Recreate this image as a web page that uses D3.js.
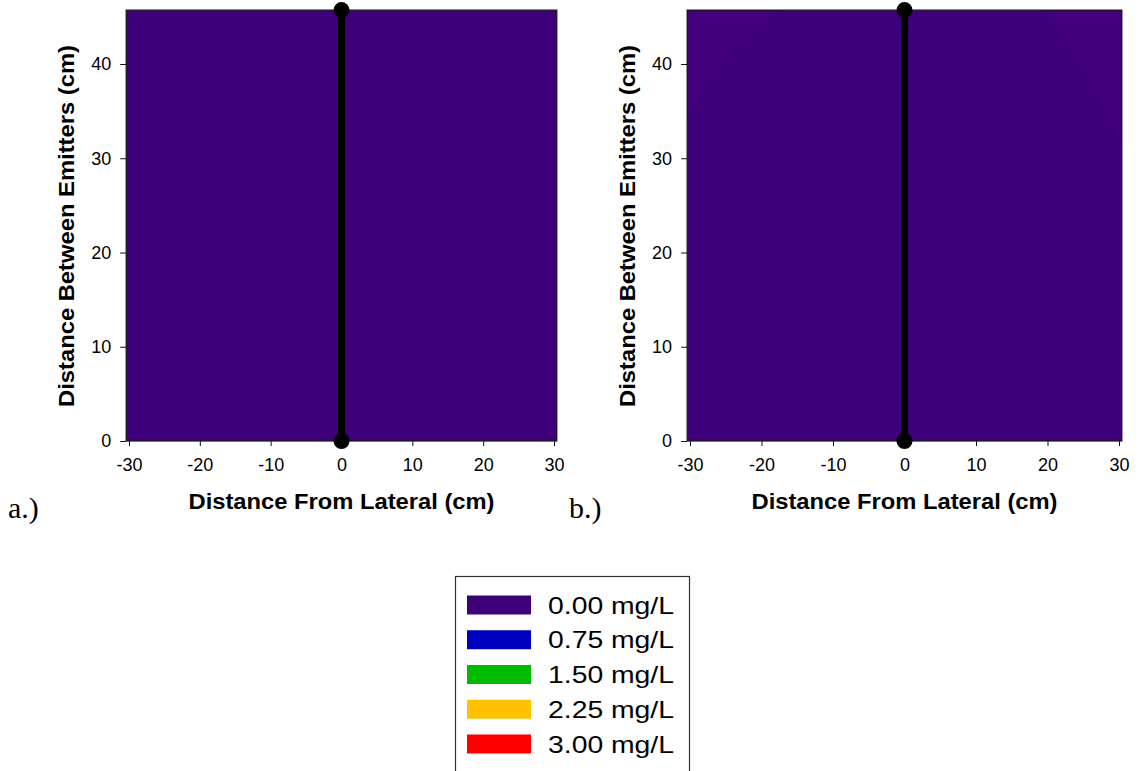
<!DOCTYPE html>
<html><head><meta charset="utf-8">
<script src="https://cdn.jsdelivr.net/npm/d3@7"></script>
<style>body{margin:0;background:#fff;} svg{display:block;}</style>
</head><body>
<svg id="c" width="1139" height="771"></svg>
<script>
// ---- data ----
const xTicks = [-30, -20, -10, 0, 10, 20, 30];
const yTicks = [0, 10, 20, 30, 40];
const xExtent = [-30.4, 30.4];
const yExtent = [0, 45.72];
const lateralX = 0;
const emitterYs = [0, 45.72];
const legendLabels = ["0.00 mg/L", "0.75 mg/L", "1.50 mg/L", "2.25 mg/L", "3.00 mg/L"];
const legendColors = ["#3d0079", "#0000c0", "#00bb00", "#ffc200", "#ff0000"];
const baseColor = "#3d0079";
const faintColor = "#42007b";
// panel b faint contour regions (data coords)
const faintTopLeft = [[-30.4,45.72],[-17,45.72],[-20,44],[-24,41.5],[-27.5,38],[-30.4,34]];
const faintTopRight = [[19,45.72],[30.4,45.72],[30.4,31.6],[27.5,36],[24,40.5],[21,44]];
const panels = [
  {label: "a.)", labelX: 8, xr: [129, 554], faint: []},
  {label: "b.)", labelX: 569, xr: [690, 1119], faint: [faintTopLeft, faintTopRight]}
];

const svg = d3.select("#c");
const y = d3.scaleLinear().domain([0, 40]).range([441, 64]);
const sans = "Liberation Sans, Arial, sans-serif";

panels.forEach((p, i) => {
  const x = d3.scaleLinear().domain([-30, 30]).range(p.xr);
  const g = svg.append("g");
  g.append("rect")
    .attr("x", x(xExtent[0])).attr("y", y(yExtent[1]))
    .attr("width", x(xExtent[1]) - x(xExtent[0]))
    .attr("height", y(yExtent[0]) - y(yExtent[1]))
    .attr("fill", baseColor);
  const line = d3.line().x(d => x(d[0])).y(d => y(d[1]));
  p.faint.forEach(poly => {
    g.append("path").attr("d", line(poly) + "Z").attr("fill", faintColor);
  });
  g.append("rect")
    .attr("x", x(xExtent[0])).attr("y", y(yExtent[1]))
    .attr("width", x(xExtent[1]) - x(xExtent[0]))
    .attr("height", y(yExtent[0]) - y(yExtent[1]))
    .attr("fill", "none").attr("stroke", "#1a1a1a").attr("stroke-width", 1.2);

  // axes
  const xa = g.append("g").attr("transform", `translate(0,${y(0)})`)
    .call(d3.axisBottom(x).tickValues(xTicks).tickSize(5).tickSizeOuter(0).tickFormat(d => String(d)));
  xa.select(".domain").remove();
  xa.selectAll("line").attr("stroke", "#111");
  xa.selectAll("text").attr("font-family", sans).attr("font-size", 18).attr("fill", "#000")
    .attr("y", 13).attr("dy", "0.95em");

  const ya = g.append("g").attr("transform", `translate(${x(xExtent[0])},0)`)
    .call(d3.axisLeft(y).tickValues(yTicks).tickSize(6).tickSizeOuter(0).tickFormat(d => String(d)));
  ya.select(".domain").remove();
  ya.selectAll("line").attr("stroke", "#111");
  ya.selectAll("text").attr("font-family", sans).attr("font-size", 18).attr("fill", "#000").attr("x", -15);

  // lateral line and emitters
  g.append("line").attr("x1", x(lateralX)).attr("x2", x(lateralX))
    .attr("y1", y(emitterYs[0])).attr("y2", y(emitterYs[1]))
    .attr("stroke", "#000").attr("stroke-width", 7);
  g.selectAll("circle.em").data(emitterYs).join("circle")
    .attr("cx", x(lateralX)).attr("cy", d => y(d)).attr("r", 8).attr("fill", "#000");

  // titles
  const cx = (x(xExtent[0]) + x(xExtent[1])) / 2;
  g.append("text").attr("x", cx).attr("y", 509).attr("text-anchor", "middle")
    .attr("font-family", sans).attr("font-weight", "bold").attr("font-size", 22)
    .attr("textLength", 306).attr("lengthAdjust", "spacingAndGlyphs")
    .text("Distance From Lateral (cm)");
  g.append("text").attr("transform", `translate(${x(xExtent[0]) - 52},${226}) rotate(-90)`)
    .attr("text-anchor", "middle")
    .attr("font-family", sans).attr("font-weight", "bold").attr("font-size", 22)
    .attr("textLength", 362).attr("lengthAdjust", "spacingAndGlyphs")
    .text("Distance Between Emitters (cm)");
  g.append("text").attr("x", p.labelX).attr("y", 518)
    .attr("font-family", "Liberation Serif, Times New Roman, serif").attr("font-size", 30)
    .text(p.label);
});

// legend
const lg = svg.append("g");
lg.append("rect").attr("x", 455.5).attr("y", 576.5).attr("width", 234).attr("height", 210)
  .attr("fill", "#fff").attr("stroke", "#333").attr("stroke-width", 1.2);
const ly = d3.scalePoint().domain(legendLabels).range([605, 744]);
legendLabels.forEach((lab, i) => {
  lg.append("rect").attr("x", 467).attr("y", ly(lab) - 9.5).attr("width", 64).attr("height", 19)
    .attr("fill", legendColors[i]);
  lg.append("text").attr("x", 548).attr("y", ly(lab) + 8.5)
    .attr("font-family", sans).attr("font-size", 24).attr("fill", "#000")
    .attr("textLength", 126).attr("lengthAdjust", "spacingAndGlyphs")
    .text(lab);
});
</script>
</body></html>
